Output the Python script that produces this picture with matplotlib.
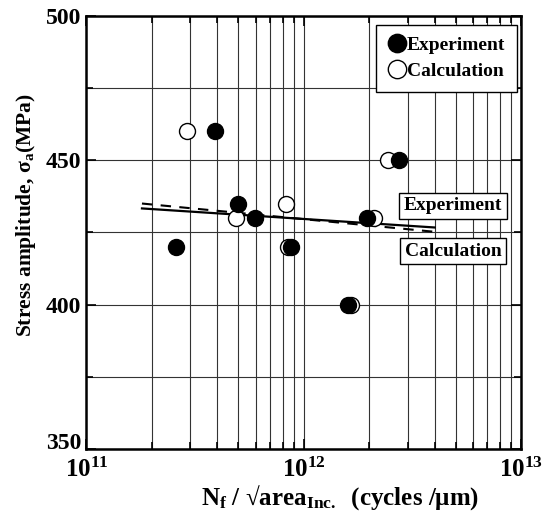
import matplotlib
matplotlib.use('Agg')
import matplotlib.pyplot as plt
import matplotlib.transforms as mtransforms

plt.rcParams['font.family'] = ['Liberation Serif', 'DejaVu Serif']
plt.rcParams['font.weight'] = 'bold'
plt.rcParams['axes.labelweight'] = 'bold'
plt.rcParams['mathtext.fontset'] = 'custom'
plt.rcParams['mathtext.rm'] = 'Liberation Serif:bold'
plt.rcParams['mathtext.it'] = 'Liberation Serif:bold'
plt.rcParams['mathtext.bf'] = 'Liberation Serif:bold'

# data
exp_n = [3.9e11, 2.73e12, 5.0e11, 5.95e11, 1.95e12, 2.58e11, 8.7e11, 1.6e12]
exp_s = [460, 450, 435, 430, 430, 420, 420, 400]
calc_n = [2.9e11, 2.43e12, 8.25e11, 4.86e11, 2.11e12, 8.42e11, 1.65e12]
calc_s = [460, 450, 435, 430, 430, 420, 400]

# fitted lines (end points)
fit_n = [1.8e11, 4.0e12]
fit_exp = [433.3, 426.7]
fit_calc = [435.0, 425.2]

xticks = [1e11, 1e12, 1e13]
xticklabels = ['10$^{11}$', '10$^{12}$', '10$^{13}$']
yticks = [350, 400, 450, 500]

fig = plt.figure(figsize=(5.44, 5.13), dpi=100)
ax = fig.add_axes([0.159, 0.125, 0.799, 0.844])

ax.set_xscale('log')
ax.set_xlim(1e11, 1e13)
ax.set_ylim(350, 500)

ax.grid(True, which='both', axis='x', color='#333333', lw=0.8)
ax.set_yticks([375, 425, 475], minor=True)
ax.grid(True, which='both', axis='y', color='#333333', lw=0.8)
ax.set_axisbelow(True)

ax.plot(fit_n, fit_exp, color='black', lw=1.6, zorder=3)
ax.plot(fit_n, fit_calc, color='black', lw=1.5, ls=(0, (5, 4)), zorder=3)

ax.plot(calc_n, calc_s, 'o', ms=11.5, mfc='white', mec='black', mew=1.0,
        zorder=4, label='Calculation')
ax.plot(exp_n, exp_s, 'o', ms=11.5, mfc='black', mec='black', mew=1.0,
        zorder=5, label='Experiment')

h, l = ax.get_legend_handles_labels()
leg = ax.legend(h[::-1], l[::-1], loc='upper right', bbox_to_anchor=(0.99, 0.98),
                fontsize=14, handletextpad=0.0, handlelength=1.0,
                borderpad=0.6, labelspacing=0.45, fancybox=False, framealpha=1,
                edgecolor='black', borderaxespad=0, markerscale=1.15)
leg.get_frame().set_linewidth(1.0)

box = dict(boxstyle='square,pad=0.25', fc='white', ec='black', lw=1.0)
ax.text(0.8435, 0.561, 'Experiment', transform=ax.transAxes, ha='center',
        va='center', fontsize=14, bbox=box, zorder=6)
ax.text(0.8435, 0.457, 'Calculation', transform=ax.transAxes, ha='center',
        va='center', fontsize=14, bbox=box, zorder=6)

ax.set_xticks(xticks)
ax.set_xticklabels(xticklabels)
ax.set_yticks(yticks)
ax.tick_params(which='both', direction='in', top=True, right=True, width=1.2)
ax.tick_params(which='major', length=7, labelsize=17, pad=4)
ax.tick_params(axis='x', which='major', pad=6, labelsize=18)
ax.tick_params(which='minor', length=5)
for s in ax.spines.values():
    s.set_linewidth(1.8)

# lift the bottom y label so it clears the 10^11 label
lift = mtransforms.ScaledTranslation(0, 6 / 72, fig.dpi_scale_trans)
ylab = ax.get_yticklabels()[0]
ylab.set_transform(ylab.get_transform() + lift)

ax.set_ylabel('Stress amplitude, σ$_\\mathrm{a}$(MPa)', fontsize=15.5,
              fontweight='bold')
ax.yaxis.set_label_coords(-0.112, 0.54)
ax.set_xlabel('N$_\\mathrm{f}$ / √area$_\\mathrm{Inc.}$  (cycles /μm)',
              fontsize=18, fontweight='bold')
ax.xaxis.set_label_coords(0.583, -0.08)

fig.savefig('out.png', dpi=100)
